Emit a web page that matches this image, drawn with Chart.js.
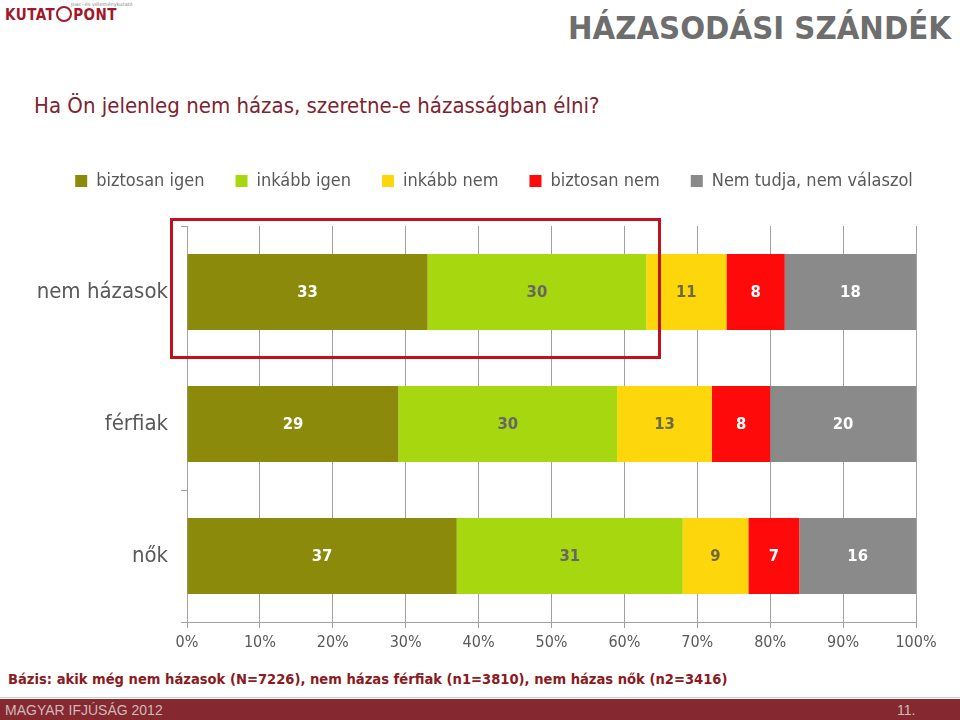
<!DOCTYPE html>
<html>
<head>
<meta charset="utf-8">
<script src="https://cdn.jsdelivr.net/npm/chart.js@4"></script>
<style>
  html, body { margin:0; padding:0; background:#fff; }
  body { width:960px; height:720px; position:relative; overflow:hidden; font-family:"DejaVu Sans Condensed","DejaVu Sans",sans-serif; }
  #logo { position:absolute; left:5px; top:1px; width:130px; height:24px; }
  #logo .main { position:absolute; left:0; top:5px; font:bold 15px "DejaVu Sans Condensed","DejaVu Sans",sans-serif; color:#a2182b; letter-spacing:0.5px; white-space:nowrap; }
  #logo .ring { display:inline-block; width:12px; height:12px; border:2px solid #a2182b; border-radius:50%; vertical-align:-2px; margin:0 1px; }
  #logo .tiny { position:absolute; left:66px; top:0px; font:5px "DejaVu Sans",sans-serif; color:#888; white-space:nowrap; }
  #title { position:absolute; right:9px; top:9px; font:bold 32.6px "DejaVu Sans Condensed","DejaVu Sans",sans-serif; color:#6e6e6e; white-space:nowrap; }
  #question { position:absolute; left:34px; top:93px; font:22px "DejaVu Sans Condensed","DejaVu Sans",sans-serif; color:#80232f; white-space:nowrap; }
  #box { position:absolute; left:0; top:141px; width:960px; height:519px; }
  #frame { position:absolute; left:170px; top:218px; width:491px; height:141px; border:3px solid #c0111f; box-sizing:border-box; pointer-events:none; }
  #basis { position:absolute; left:8px; top:670px; font:bold 14.6px "DejaVu Sans Condensed","DejaVu Sans",sans-serif; color:#8b1a22; white-space:nowrap; }
  #rule { position:absolute; left:0; top:697px; width:960px; height:1px; background:#cfcfcf; }
  #footer { position:absolute; left:0; top:699px; width:960px; height:21px; background:#86282f; }
  #footer .l { position:absolute; left:5px; top:3px; font:14px "Liberation Sans",Arial,sans-serif; color:#cdb9bb; }
  #footer .r { position:absolute; left:897px; top:3px; font:14px "Liberation Sans",Arial,sans-serif; color:#cdb9bb; }
</style>
</head>
<body>
<div id="logo"><span class="tiny">piac- és véleménykutató</span><span class="main">KUTAT<span class="ring"></span>PONT</span></div>
<div id="title">HÁZASODÁSI SZÁNDÉK</div>
<div id="question">Ha Ön jelenleg nem házas, szeretne-e házasságban élni?</div>
<div id="box"><canvas id="c" width="960" height="519"></canvas></div>
<div id="frame"></div>
<div id="basis">Bázis: akik még nem házasok (N=7226), nem házas férfiak (n1=3810), nem házas nők (n2=3416)</div>
<div id="rule"></div>
<div id="footer"><span class="l">MAGYAR IFJÚSÁG 2012</span><span class="r">11.</span></div>
<script>
const categories = ["nem házasok", "férfiak", "nők"];
const seriesNames = ["biztosan igen", "inkább igen", "inkább nem", "biztosan nem", "Nem tudja, nem válaszol"];
const biztosanIgen = [33, 29, 37];
const inkabbIgen   = [30, 30, 31];
const inkabbNem    = [11, 13, 9];
const biztosanNem  = [8, 8, 7];
const nemTudja     = [18, 20, 16];
const xTickValues  = [0, 10, 20, 30, 40, 50, 60, 70, 80, 90, 100];

const seriesValues = [biztosanIgen, inkabbIgen, inkabbNem, biztosanNem, nemTudja];
const barColors   = ["#8b8a0b", "#a6d70f", "#fdd60c", "#ff0a0a", "#8a8a8a"];
const labelColors = ["#ffffff", "#666666", "#6f6a3c", "#ffffff", "#ffffff"];
const FONT = '"DejaVu Sans Condensed", "DejaVu Sans", sans-serif';
const LEGEND_SHIFT = 36;

const valueLabels = {
  id: 'valueLabels',
  afterDatasetsDraw(chart) {
    const ctx = chart.ctx;
    chart.data.datasets.forEach((ds, i) => {
      const meta = chart.getDatasetMeta(i);
      meta.data.forEach((el, j) => {
        const cx = (el.x + el.base) / 2;
        ctx.save();
        ctx.font = 'bold 16.5px ' + FONT;
        ctx.fillStyle = labelColors[i];
        ctx.textAlign = 'center';
        ctx.textBaseline = 'middle';
        ctx.fillText(String(ds.data[j]), cx, el.y + 1);
        ctx.restore();
      });
    });
  }
};

const legendShift = {
  id: 'legendShift',
  afterLayout(chart) {
    if (chart.legend) { chart.legend.left += LEGEND_SHIFT; chart.legend.right += LEGEND_SHIFT; }
  }
};

new Chart(document.getElementById('c'), {
  type: 'bar',
  data: {
    labels: categories,
    datasets: seriesNames.map((n, i) => ({
      label: n,
      data: seriesValues[i],
      backgroundColor: barColors[i],
      borderWidth: 0,
      categoryPercentage: 1,
      barPercentage: 0.576
    }))
  },
  options: {
    indexAxis: 'y',
    responsive: false,
    animation: false,
    devicePixelRatio: 1,
    layout: { padding: { top: 0, left: 0, right: 44, bottom: 0 } },
    plugins: {
      tooltip: { enabled: false },
      legend: {
        position: 'top',
        labels: {
          boxWidth: 12, boxHeight: 12, padding: 31,
          color: '#595959',
          font: { family: FONT, size: 18 }
        }
      }
    },
    scales: {
      x: {
        stacked: true, min: 0, max: 100,
        afterBuildTicks: s => { s.ticks = xTickValues.map(v => ({ value: v })); },
        afterFit: s => { s.height = 38; },
        grid: { color: '#a0a0a0', lineWidth: 1, tickLength: 6, drawTicks: true },
        border: { color: '#a0a0a0', width: 1 },
        ticks: { callback: v => v + '%', color: '#595959', font: { family: FONT, size: 16 }, padding: 5, maxRotation: 0 }
      },
      xTop: {
        position: 'top', type: 'linear', min: 0, max: 100, display: true,
        afterFit: s => { s.height = 26; },
        grid: { display: false }, border: { display: false }, ticks: { display: false }
      },
      y: {
        stacked: true,
        afterFit: s => { s.width = 187; },
        grid: { drawOnChartArea: false, drawTicks: true, tickLength: 6, color: '#a0a0a0', offset: true },
        border: { color: '#a0a0a0', width: 1 },
        ticks: { color: '#595959', font: { family: FONT, size: 22 }, padding: 13 }
      }
    }
  },
  plugins: [valueLabels, legendShift]
});
</script>
</body>
</html>
